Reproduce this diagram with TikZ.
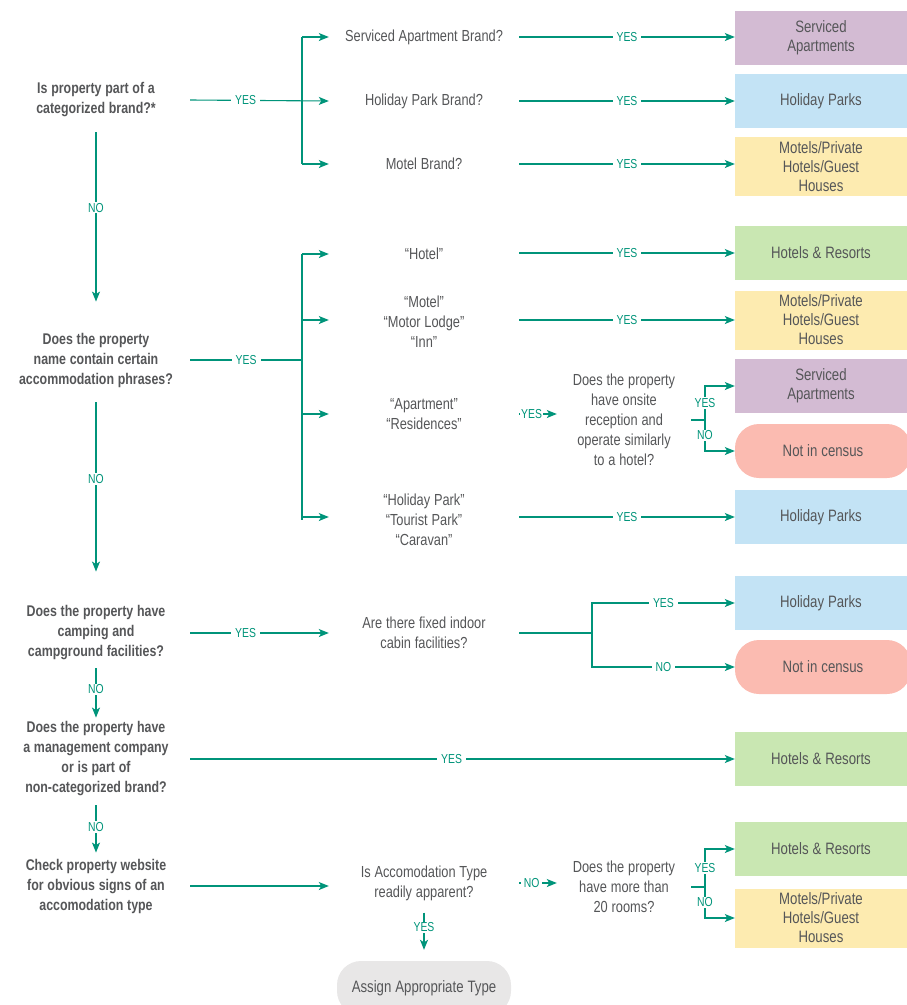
\documentclass[tikz,border=0pt]{standalone}
\usepackage{fontspec}
\setmainfont{Liberation Sans}[FakeStretch=0.8]
\usepackage{tikz}
\usetikzlibrary{arrows,arrows.meta,backgrounds}

\definecolor{txtgray}{RGB}{85,86,88}
\definecolor{flowteal}{RGB}{0,148,122}
\definecolor{boxpurple}{RGB}{211,187,211}
\definecolor{boxblue}{RGB}{195,227,245}
\definecolor{boxyellow}{RGB}{253,235,176}
\definecolor{boxgreen}{RGB}{201,231,178}
\definecolor{boxpink}{RGB}{251,187,177}
\definecolor{boxgray}{RGB}{232,231,231}

\begin{document}
\begin{tikzpicture}[x=1pt,y=-1pt,
  every node/.style={text=txtgray, font=\fontsize{16}{20}\selectfont, execute at begin node={\spaceskip=.24em\relax}},
  q/.style={text width=188pt, align=center, inner sep=0pt, font=\fontsize{15.5}{20}\selectfont\bfseries},
  mid/.style={text width=190pt, align=center, inner sep=0pt},
  sub/.style={text width=134pt, align=center, inner sep=0pt},
  res/.style={fill=#1, minimum width=172pt, minimum height=54pt, text width=160pt, align=center, inner sep=0pt, font=\fontsize{16.5}{19}\selectfont},
  pill/.style={fill=#1, rounded corners=24pt, minimum width=176pt, minimum height=54pt, inner sep=0pt, font=\fontsize{16.5}{19}\selectfont},
  lbl/.style={text=flowteal, fill=white, inner xsep=4pt, inner ysep=1pt, font=\fontsize{13}{14}\selectfont},
  ln/.style={draw=flowteal, line width=1.1pt},
  arr/.style={color=flowteal, line width=1.1pt, -{Stealth[length=10pt,width=8pt,inset=2.5pt]}}]
  \useasboundingbox (0,0) rectangle (907,1005);

  \node[q] (q1) at (96,100) {Is property part of a\\categorized brand?*};
  \node[q] (q2) at (96,360) {Does the property\\name contain certain\\accommodation phrases?};
  \node[q] (q3) at (96,633) {Does the property have\\camping and\\campground facilities?};
  \node[q] (q4) at (96,759) {Does the property have\\a management company\\or is part of\\non-categorized brand?};
  \node[q] (q5) at (96,886) {Check property website\\for obvious signs of an\\accomodation type};

  \node[mid] (sab) at (424,37) {Serviced Apartment Brand?};
  \node[mid] (hpb) at (424,101) {Holiday Park Brand?};
  \node[mid] (mb) at (424,164) {Motel Brand?};
  \node[mid] (hot) at (424,254) {“Hotel”};
  \node[mid] (mot) at (424,322) {“Motel”\\“Motor Lodge”\\“Inn”};
  \node[mid] (apt) at (424,414) {“Apartment”\\“Residences”};
  \node[mid] (hol) at (424,520) {“Holiday Park”\\“Tourist Park”\\“Caravan”};
  \node[mid] (cab) at (424,633) {Are there fixed indoor\\cabin facilities?};
  \node[mid] (acc) at (424,883) {Is Accomodation Type\\readily apparent?};
  \node[sub] (ons) at (624,420) {Does the property\\have onsite\\reception and\\operate similarly\\to a hotel?};
  \node[sub] (rms) at (624,887) {Does the property\\have more than\\20 rooms?};

  \node[res=boxpurple] (r1) at (821,38) {Serviced\\Apartments};
  \node[res=boxblue] (r2) at (821,101) {Holiday Parks};
  \node[res=boxyellow, minimum height=59pt] (r3) at (821,166.5) {Motels/Private\\Hotels/Guest\\Houses};
  \node[res=boxgreen] (r4) at (821,253) {Hotels \& Resorts};
  \node[res=boxyellow, minimum height=59pt] (r5) at (821,320) {Motels/Private\\Hotels/Guest\\Houses};
  \node[res=boxpurple] (r6) at (821,386) {Serviced\\Apartments};
  \node[pill=boxpink] (r7) at (823,451) {Not in census};
  \node[res=boxblue] (r8) at (821,517) {Holiday Parks};
  \node[res=boxblue] (r9) at (821,603) {Holiday Parks};
  \node[pill=boxpink] (r10) at (823,667) {Not in census};
  \node[res=boxgreen] (r11) at (821,759) {Hotels \& Resorts};
  \node[res=boxgreen] (r12) at (821,849) {Hotels \& Resorts};
  \node[res=boxyellow, minimum height=59pt] (r13) at (821,918) {Motels/Private\\Hotels/Guest\\Houses};
  \node[pill=boxgray, minimum width=174pt] (asg) at (424,988) {Assign Appropriate Type};

  \coordinate (b1) at (302,100);
  \coordinate (b2) at (302,360);
  \coordinate (b3) at (592,633);
  \coordinate (c1) at (705,420);
  \coordinate (c2) at (705,887);

  \draw[ln] (b1 |- sab) -- (b1 |- mb);
  \draw[ln] (b2 |- hot) -- (b2 |- hol);
  \draw[ln] (q2.east) -- node[lbl]{YES} (b2);
  \draw[ln] (cab.east) -- (b3);
  \draw[ln] (ons.east) -- (c1);
  \draw[ln] (rms.east) -- (c2);

  \path[arr]
  (q1.east) edge node[lbl,pos=.4]{YES} (hpb.west)
  (b1 |- sab) edge (sab.west)
  (b1 |- mb) edge (mb.west)
  (sab.east) edge node[lbl]{YES} (sab.east -| r1.west)
  (hpb.east) edge node[lbl]{YES} (hpb.east -| r2.west)
  (mb.east) edge node[lbl]{YES} (mb.east -| r3.west)
  (b2 |- hot) edge (b2 |- hot -| hot.west)
  (b2 |- r5) edge (b2 |- r5 -| mot.west)
  (b2 |- apt) edge (apt.west)
  (b2 |- r8) edge (b2 |- r8 -| hol.west)
  (hot.east |- r4) edge node[lbl]{YES} (r4.west)
  (mot.east |- r5) edge node[lbl]{YES} (r5.west)
  (hol.east |- r8) edge node[lbl]{YES} (r8.west)
  (apt.east) edge node[lbl,pos=.33,inner xsep=1pt]{YES} (apt.east -| ons.west)
  (q3.east) edge node[lbl,pos=.4]{YES} (cab.west)
  (q4.east) edge node[lbl,pos=.48]{YES} (q4.east -| r11.west)
  (q5.east) edge (q5.east -| acc.west)
  (acc.east) edge node[lbl,pos=.33,inner xsep=3pt]{NO} (acc.east -| rms.west)
  ;
  \draw[arr] (c1) |- node[lbl,pos=.25]{YES} (r6.west);
  \draw[arr] (c1) |- node[lbl,pos=.25]{NO} (r7.west);
  \draw[arr] (b3) |- node[lbl,pos=.75]{YES} (r9.west);
  \draw[arr] (b3) |- node[lbl,pos=.75]{NO} (r10.west);
  \draw[arr] (c2) |- node[lbl,pos=.25]{YES} (r12.west);
  \draw[arr] (c2) |- node[lbl,pos=.25]{NO} (r13.west);

  \path[arr]
  (q1.south) edge[shorten <=15pt, shorten >=31pt] node[lbl,pos=.42]{NO} (q2.north)
  (q2.south) edge[shorten <=15pt, shorten >=34pt] node[lbl,pos=.42]{NO} (q3.north)
  (q3.south) edge[shorten <=8pt, shorten >=4pt] node[lbl,pos=.47]{NO} (q4.north)
  (q4.south) edge[shorten <=9pt, shorten >=6pt] node[lbl,pos=.49]{NO} (q5.north)
  (acc.south) edge[shorten <=12pt, shorten >=11pt] node[lbl,pos=.44]{YES} (asg.north)
  ;
\end{tikzpicture}
\end{document}
